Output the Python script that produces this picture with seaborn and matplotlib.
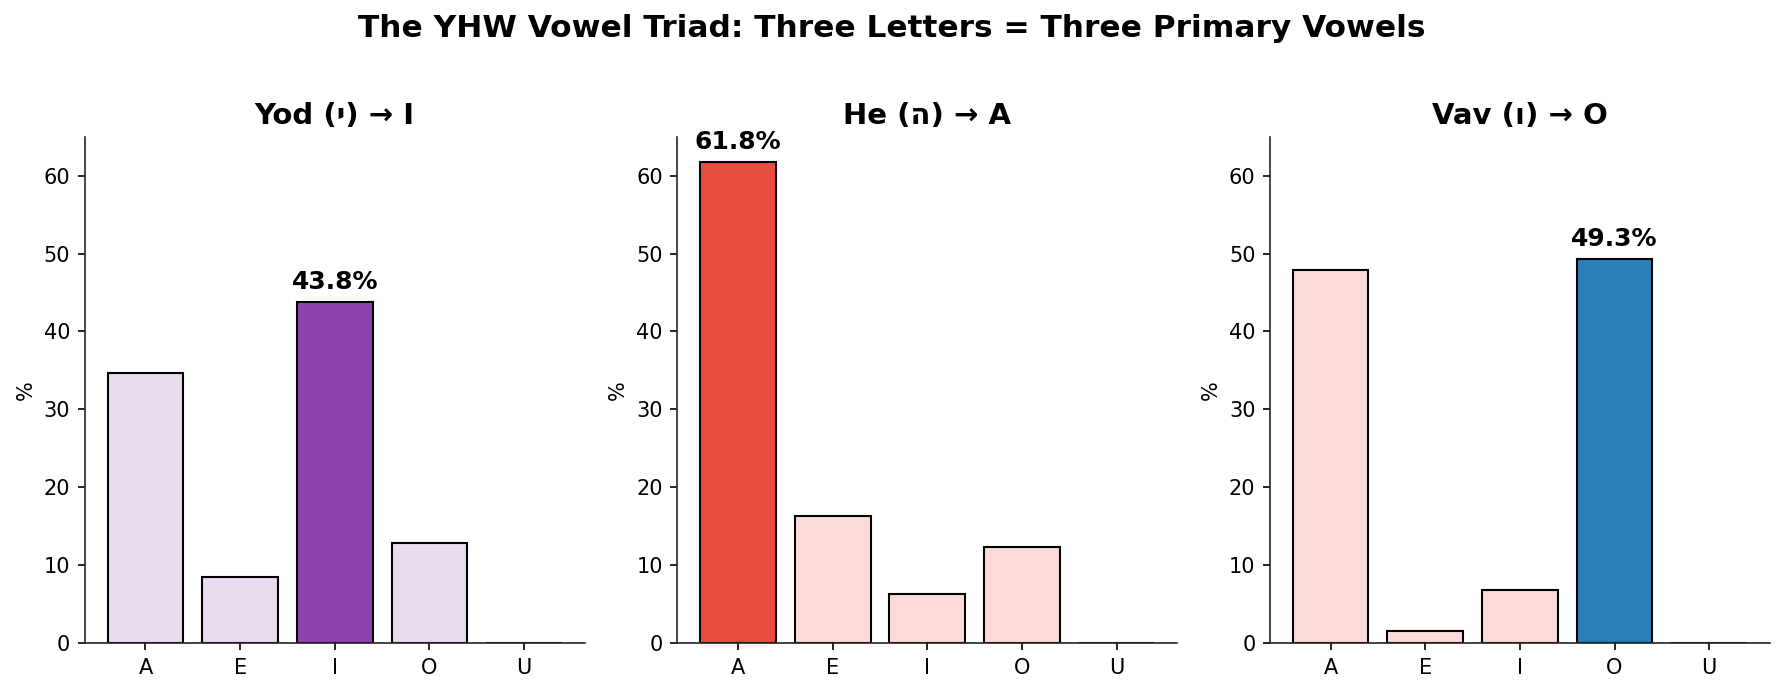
import pandas as pd
import matplotlib.pyplot as plt
import seaborn as sns

# Vowel shares (%) following each letter
vowels = ['A', 'E', 'I', 'O', 'U']
yod_pct = [34.6, 8.5, 43.8, 12.8, 0.0]
he_pct = [61.8, 16.3, 6.3, 12.3, 0.0]
vav_pct = [47.9, 1.6, 6.8, 49.3, 0.0]

titles = ['Yod (\u05d9) \u2192 I', 'He (\u05d4) \u2192 A', 'Vav (\u05d5) \u2192 O']
targets = ['I', 'A', 'O']
main_colors = ['#8E44AD', '#E74C3C', '#2980B9']
light_colors = ['#E8DAEF', '#FADBD8', '#FADBD8']

sns.set_style("ticks")
plt.rcParams['font.family'] = ['DejaVu Sans']
plt.rcParams['text.color'] = 'black'
plt.rcParams['xtick.color'] = 'black'
plt.rcParams['ytick.color'] = 'black'
plt.rcParams['axes.labelcolor'] = 'black'

fig, axs = plt.subplots(1, 3, figsize=(1784 / 150, 694 / 150), dpi=150)
fig.subplots_adjust(left=0.0476, right=0.992, bottom=0.0735, top=0.803, wspace=0.186)

for i, (ax, vals) in enumerate(zip(axs, [yod_pct, he_pct, vav_pct])):
    df = pd.DataFrame({'vowel': vowels, 'pct': vals})
    pal = {v: (main_colors[i] if v == targets[i] else light_colors[i]) for v in vowels}
    sns.barplot(data=df, x='vowel', y='pct', hue='vowel', palette=pal, legend=False,
                edgecolor='black', linewidth=1, saturation=1, width=0.8, ax=ax)
    k = vowels.index(targets[i])
    ax.text(k, vals[k] + 1, '{:.1f}%'.format(vals[k]), ha='center', va='bottom',
            fontsize=12, fontweight='bold')
    ax.set_title(titles[i], fontsize=14, fontweight='bold')
    ax.set_xlabel('')
    ax.set_ylabel('%')
    # matplotlib-style 5% margin around the bars
    ax.set_xlim(-0.4 - 0.24, len(vowels) - 0.6 + 0.24)
    ax.set_ylim(0, 65)
    sns.despine(ax=ax)

fig.suptitle('The YHW Vowel Triad: Three Letters = Three Primary Vowels',
             fontsize=15, fontweight='bold')

plt.savefig('out.png', dpi=150)
plt.close()
